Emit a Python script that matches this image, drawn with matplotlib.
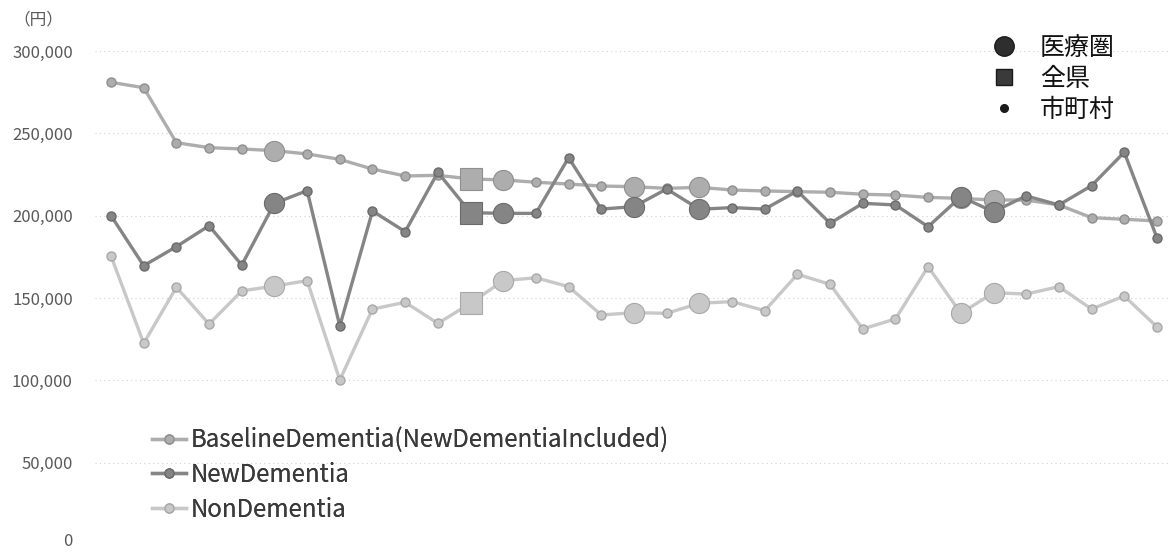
import matplotlib
matplotlib.use("Agg")
import matplotlib.pyplot as plt
from matplotlib.lines import Line2D
from matplotlib.transforms import ScaledTranslation
import numpy as np

plt.rcParams['font.family'] = ['Noto Sans CJK JP', 'DejaVu Sans']

# Average cost (yen) per municipality, ordered along the x axis
baseline = [281000, 277700, 244300, 241300, 240500, 239500, 237500, 234200, 228300, 224100,
            224500, 222300, 221700, 220300, 219200, 218000, 217600, 216600, 217200, 215600,
            215000, 214600, 214200, 213000, 212500, 211100, 210500, 209500, 209500, 206500,
            198800, 197800, 196800]
new_dementia = [200000, 169600, 181200, 193900, 170000, 207500, 215200, 133000, 202800, 190300,
                226300, 201800, 201400, 201400, 235200, 204000, 205500, 216200, 203900, 204900,
                204000, 215000, 195400, 207500, 206500, 193300, 211500, 202400, 212000, 206500,
                218200, 238500, 186600]
non_dementia = [175500, 122500, 156500, 134200, 154300, 157300, 160500, 100200, 143300, 147400,
                134600, 146800, 160500, 162300, 156900, 139700, 141100, 140700, 146800, 147800,
                142300, 164400, 158300, 131200, 137300, 169000, 140700, 153200, 152400, 156900,
                143300, 151200, 132500]

# Administrative level of each point: 市町村 (municipality), 医療圏 (medical area), 全県 (prefecture)
levels = (['市町村'] * 5 + ['医療圏'] + ['市町村'] * 5 + ['全県', '医療圏'] + ['市町村'] * 3
          + ['医療圏', '市町村', '医療圏'] + ['市町村'] * 7 + ['医療圏', '医療圏'] + ['市町村'] * 5)

series_names = ['BaselineDementia(NewDementiaIncluded)', 'NewDementia', 'NonDementia']
y_ticks = [0, 50000, 100000, 150000, 200000, 250000, 300000]
level_labels = ['医療圏', '全県', '市町村']

colors = {'BaselineDementia(NewDementiaIncluded)': '#adadad',
          'NewDementia': '#858585',
          'NonDementia': '#c8c8c8'}
edges = {'BaselineDementia(NewDementiaIncluded)': '#8f8f8f',
         'NewDementia': '#6a6a6a',
         'NonDementia': '#a8a8a8'}

W, H = 1170, 552
fig = plt.figure(figsize=(W / 100, H / 100), dpi=100)
ax = fig.add_axes([95 / W, (H - 545) / H, (1170 - 95) / W, (545 - 51) / H])

x = np.arange(len(baseline))
lv = np.array(levels)
data = {'BaselineDementia(NewDementiaIncluded)': np.array(baseline),
        'NonDementia': np.array(non_dementia),
        'NewDementia': np.array(new_dementia)}

handles = {}
for z, (name, vals) in enumerate(data.items()):
    c, e = colors[name], edges[name]
    h, = ax.plot(x, vals, color=c, lw=2.4, marker='o', ms=6.5, mfc=c, mec=e, mew=1.0,
                 zorder=3 + z * 2, clip_on=False, label=name)
    handles[name] = h
    m = lv == '医療圏'
    ax.plot(x[m], vals[m], ls='none', marker='o', ms=14.5, mfc=c, mec=e, mew=0.8,
            zorder=4 + z * 2, clip_on=False)
    m = lv == '全県'
    ax.plot(x[m], vals[m], ls='none', marker='s', ms=15.5, mfc=c, mec=e, mew=0.8,
            zorder=4 + z * 2, clip_on=False)

ax.set_xlim(-0.49, 32.4)
ax.set_ylim(0, 300000)
ax.set_yticks(y_ticks)
ax.set_yticklabels([f'{v:,}' for v in y_ticks])
ax.tick_params(axis='y', length=0, pad=16, labelsize=12, labelcolor='#595959')
ax.tick_params(axis='x', length=0, labelbottom=False)
for s in ax.spines.values():
    s.set_visible(False)
ax.grid(axis='y', color='#d0d0d0', lw=0.8, ls=(0, (1, 3)))
ax.set_axisbelow(True)

# keep the bottom "0" label inside the canvas
zero_lbl = ax.get_yticklabels()[0]
zero_lbl.set_transform(zero_lbl.get_transform()
                       + ScaledTranslation(0, 5 / 100, fig.dpi_scale_trans))

fig.text(38 / W, 1 - 20 / H, '（円）', ha='center', va='center', fontsize=12, color='#595959')

# Series legend, lower left inside the plot
leg1 = ax.legend([handles[n] for n in series_names], series_names,
                 loc='upper left', bbox_to_anchor=((152 - 95) / 1075, (545 - 427) / (545 - 51)),
                 frameon=False, fontsize=17.3, handlelength=1.4, handletextpad=0.2,
                 labelspacing=0.37, borderpad=0, borderaxespad=0)
for t in leg1.get_texts():
    t.set_color('#3a3a3a')
ax.add_artist(leg1)

# Level legend, upper right
lvl_handles = [Line2D([], [], ls='none', marker='o', ms=14, mfc='#2e2e2e', mec='#1a1a1a'),
               Line2D([], [], ls='none', marker='s', ms=11, mfc='#3a3a3a', mec='#1a1a1a'),
               Line2D([], [], ls='none', marker='o', ms=5.5, mfc='#1a1a1a', mec='#1a1a1a')]
leg2 = fig.legend(lvl_handles, level_labels, loc='upper left',
                  bbox_to_anchor=(990 / W, 1 - 35 / H), frameon=False, fontsize=18,
                  handlelength=1.1, handletextpad=0.9, labelspacing=0.2,
                  borderpad=0, borderaxespad=0)
for t in leg2.get_texts():
    t.set_color('#111111')

fig.savefig('out.png', dpi=100, facecolor='white')
